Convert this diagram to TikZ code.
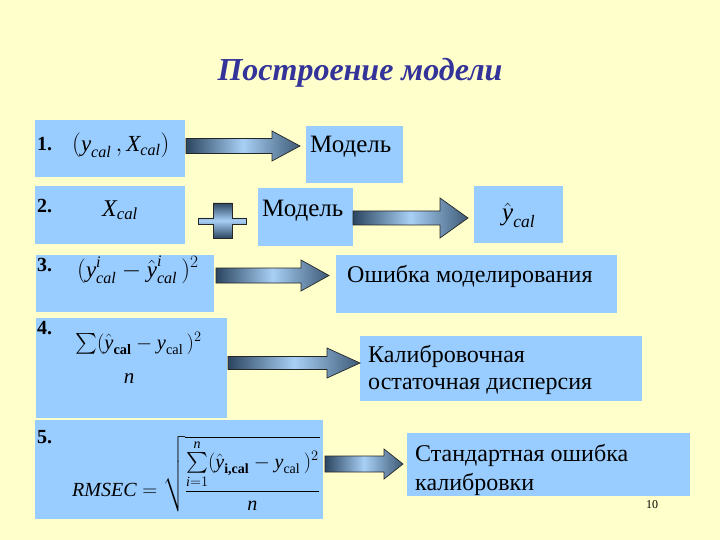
\documentclass[tikz,border=0pt]{standalone}
\usepackage{amsmath}
\usepackage{fontspec}
\newfontfamily\ser{Liberation Serif}
\newcommand\mi[1]{\text{\ser\itshape #1}}
\newcommand\mr[1]{\text{\ser #1}}
\newcommand\mb[1]{\text{\ser\bfseries #1}}
\usetikzlibrary{calc}
\definecolor{bg}{HTML}{FFFFCC}
\definecolor{boxc}{HTML}{99CCFF}
\definecolor{titlec}{HTML}{333399}
\definecolor{adark}{HTML}{2B4560}
\definecolor{alight}{HTML}{A8D0F5}
\newcommand\blockarr[6]{%
 \shade[left color=adark, right color=adark!85!alight, middle color=alight, draw=black!85, line width=0.7pt]
 (#1,#4-#5) -- (#2,#4-#5) -- (#2,#4-#6) -- (#3,#4) -- (#2,#4+#6) -- (#2,#4+#5) -- (#1,#4+#5) -- cycle;}
\tikzset{
  box/.style={fill=boxc, draw=none, anchor=north west, inner sep=0pt},
  txt/.style={anchor=base west, inner sep=0pt, font=\ser\fontsize{24}{28}\selectfont, align=left},
  num/.style={anchor=base west, inner sep=0pt, font=\ser\fontsize{20}{24}\selectfont\bfseries},
  frm/.style={inner sep=0pt, anchor=base west, font=\ser\fontsize{21}{25}\selectfont},
}
\begin{document}
\begin{tikzpicture}[x=1pt,y=-1pt]
\fill[bg] (0,0) rectangle (720,540);
\useasboundingbox (0,0) rectangle (720,540);
\node[font=\ser\fontsize{32}{36}\selectfont\bfseries\itshape, text=titlec] (title) at (360,73) {Построение модели};
% boxes
\node[box, minimum width=150pt, minimum height=57pt] (b1) at (35,120) {};
\node[box, minimum width=97pt, minimum height=57pt] (m1) at (306,126) {};
\node[box, minimum width=150pt, minimum height=58pt] (b2) at (35,186) {};
\node[box, minimum width=95pt, minimum height=58pt] (m2) at (258,188) {};
\node[box, minimum width=89pt, minimum height=57pt] (yh) at (474,186) {};
\node[box, minimum width=178pt, minimum height=57pt] (b3) at (36,255) {};
\node[box, minimum width=281pt, minimum height=58pt] (er) at (336,255) {};
\node[box, minimum width=191pt, minimum height=100pt] (b4) at (36,318) {};
\node[box, minimum width=282pt, minimum height=65pt] (ca) at (360,336) {};
\node[box, minimum width=288pt, minimum height=99pt] (b5) at (35,420) {};
\node[box, minimum width=283pt, minimum height=63pt] (st) at (407,433) {};
% arrows
\blockarr{186}{272}{300}{146}{7.5}{15}
\blockarr{353}{440}{468}{218}{7}{20}
\blockarr{216}{301}{329}{275.5}{7.5}{15.5}
\blockarr{228}{327}{360}{363}{6.5}{15}
\blockarr{325}{384}{403}{464}{8}{15}
% plus
\shade[top color=adark, bottom color=adark, middle color=alight, draw=black!85, line width=0.7pt]
 (213,203) -- (232,203) -- (232,218) -- (246,218) -- (246,224) -- (232,224) -- (232,238) -- (213,238) -- (213,224) -- (198,224) -- (198,218) -- (213,218) -- cycle;
% texts
\node[num] (n1) at (37,151) {1.};
\node[frm, font=\ser\fontsize{23}{27}\selectfont] (f1) at (72,152) {$(\mi{y}_{\mi{cal}}\,, \mi{X}_{\mi{cal}})$};
\node[txt, font=\ser\fontsize{25}{29}\selectfont] (t1) at (310,153) {Модель};
\node[num] (n2) at (37,213) {2.};
\node[frm, font=\ser\fontsize{24}{28}\selectfont] (f2) at (102,216) {$\mi{X}_{\mi{cal}}$};
\node[txt, font=\ser\fontsize{25}{29}\selectfont] (t2) at (262,216) {Модель};
\node[frm, font=\ser\fontsize{25}{29}\selectfont] (f3y) at (502,221) {$\hat{\mi{y}}_{\mi{cal}}$};
\node[num] (n3) at (37,271) {3.};
\node[frm, font=\ser\fontsize{23}{27}\selectfont] (f3) at (77,277) {$(\mi{y}^{\mi{i}}_{\mi{cal}} - \hat{\mi{y}}^{\mi{i}}_{\mi{cal}}\,)^2$};
\node[txt] (t3) at (347,282) {Ошибка моделирования};
\node[num] (n4) at (37,334) {4.};
\node[frm, font=\ser\fontsize{20.5}{24}\selectfont] (f4) at (75,349) {$\sum(\hat{\mi{y}}_{\mb{cal}} - \mi{y}_{\mr{cal}}\,)^2$};
\node[frm, anchor=base] (f4n) at (129,383) {$\mi{n}$};
\node[txt, font=\ser\fontsize{24}{27}\selectfont] (t4) at (368,389) {Калибровочная\\остаточная дисперсия};
\node[num] (n5) at (37,443) {5.};
\node[frm, anchor=west, font=\ser\fontsize{20}{24}\selectfont] (f5) at (72,474) {$\mi{RMSEC}=\sqrt{\dfrac{\sum\limits_{\mi{i}=1}^{\mi{n}}(\hat{\mi{y}}_{\mb{i,cal}} - \mi{y}_{\mr{cal}}\,)^2}{\mi{n}}}$};
\node[txt, font=\ser\fontsize{24}{29}\selectfont] (t5) at (415,490) {Стандартная ошибка\\калибровки};
\node[font=\ser\fontsize{12}{14}\selectfont] (pg) at (652,505) {10};
\end{tikzpicture}
\end{document}
